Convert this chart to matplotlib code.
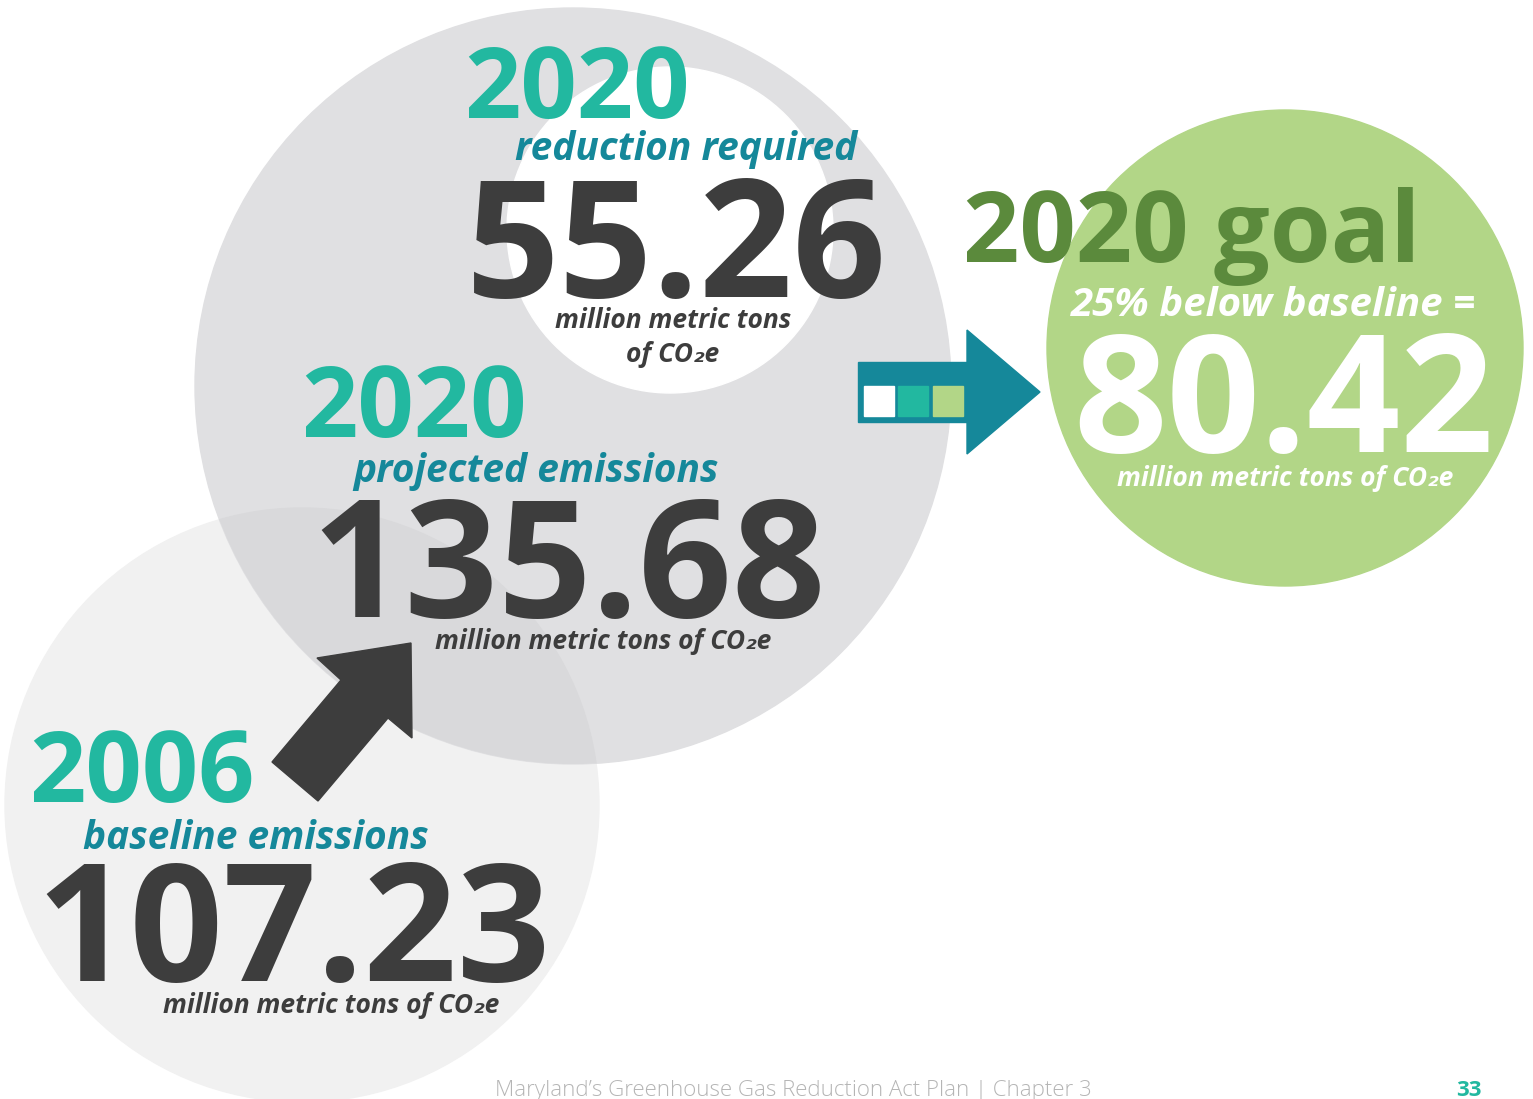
import matplotlib
matplotlib.use("Agg")
import matplotlib.pyplot as plt
from matplotlib.patches import Circle, Polygon, Rectangle

# values shown on the infographic
years = ["2006", "2020", "2020"]
labels = ["baseline emissions", "projected emissions", "reduction required"]
values = ["107.23", "135.68", "55.26"]
goal_title = "2020 goal"
goal_text = "25% below baseline ="
goal_value = "80.42"
unit = "million metric tons of CO\u2082e"
footer = "Maryland\u2019s Greenhouse Gas Reduction Act Plan | Chapter 3"
page_no = "33"

TEAL = "#22b8a0"
BLUE = "#15889a"
DARK = "#3d3d3d"
GREEN = "#b2d687"
GREEN_DARK = "#5b8a3c"

plt.rcParams['font.family'] = ['Open Sans', 'DejaVu Sans']

fig = plt.figure(figsize=(15.33, 10.99), dpi=100)
ax = fig.add_axes([0, 0, 1, 1])
ax.set_xlim(0, 1533)
ax.set_ylim(1099, 0)
ax.set_aspect('equal')
ax.axis('off')

# circles
base = Circle((302, 805), 297, color="#f1f1f1", zorder=1)
big = Circle((573, 386), 378, color="#e0e0e2", zorder=2)
ax.add_patch(base)
ax.add_patch(big)
overlap = Circle((302, 805), 297, color="#d9d9db", zorder=3)
ax.add_patch(overlap)
overlap.set_clip_path(big)
ax.add_patch(Circle((670, 230), 163, color="white", zorder=4))
ax.add_patch(Circle((1285, 348), 238, color=GREEN, zorder=4))

# right arrow with squares
ax.add_patch(Rectangle((858, 362), 112, 60, color=BLUE, zorder=5))
ax.add_patch(Polygon([(967, 330), (1040, 392), (967, 454)], color=BLUE, zorder=5))
for x0, c in zip([864, 898, 933], ["white", TEAL, GREEN]):
    ax.add_patch(Rectangle((x0, 386), 30, 30, color=c, zorder=6))

# dark up arrow
ax.add_patch(Polygon([(272, 762), (318, 801), (388, 718), (412, 738),
                      (411, 643), (317, 658), (341, 680)], color=DARK, zorder=6))

def label(x, y, s, size, color, style='normal', weight='bold', ha='left'):
    ax.text(x, y, s, fontsize=size, color=color, fontstyle=style,
            fontweight=weight, ha=ha, va='baseline', zorder=10)

# 2020 reduction required
label(464, 118, years[2], 71, TEAL)
label(515, 160, labels[2], 28, BLUE, 'italic')
label(466, 297, values[2], 118, DARK)
label(673, 328, "million metric tons", 19, DARK, 'italic', ha='center')
label(673, 362, "of CO\u2082e", 19, DARK, 'italic', ha='center')

# 2020 projected
label(301, 437, years[1], 71, TEAL)
label(353, 482, labels[1], 28, BLUE, 'italic')
label(311, 617, values[1], 118, DARK)
label(603, 649, unit, 19, DARK, 'italic', ha='center')

# 2006 baseline
label(29, 802, years[0], 71, TEAL)
label(83, 849, labels[0], 28, BLUE, 'italic')
label(36, 981, values[0], 118, DARK)
label(331, 1013, unit, 19, DARK, 'italic', ha='center')

# goal
label(963, 262, goal_title, 71, GREEN_DARK)
label(1274, 316, goal_text, 29, "white", 'italic', ha='center')
label(1073, 452, goal_value, 118, "white")
label(1285, 486, unit, 19, "white", 'italic', ha='center')

# footer
ax.text(793, 1080, footer, fontsize=16, color="#b5b5b5", ha='center', va='top',
        fontweight='light', zorder=10)
ax.text(1469, 1080, page_no, fontsize=16, color=TEAL, ha='center', va='top',
        fontweight='bold', zorder=10)

fig.savefig("out.png", dpi=100)
